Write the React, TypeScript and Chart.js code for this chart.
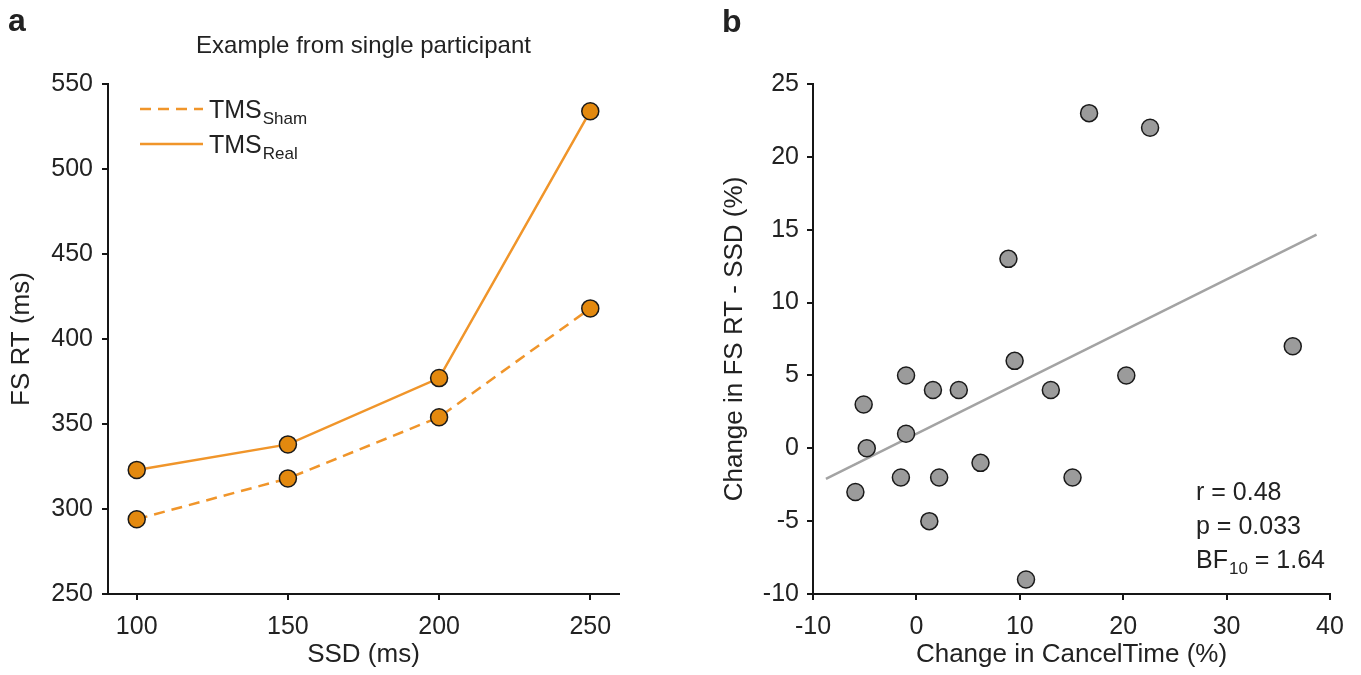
import { useEffect, useRef } from "react";
import { Chart, registerables } from "chart.js";

Chart.register(...registerables);

// ---------- Data ----------
const ssdValues = [100, 150, 200, 250];
const shamRT = [294, 318, 354, 418];
const realRT = [323, 338, 377, 534];
const rtTicks = [250, 300, 350, 400, 450, 500, 550];
const ssdTicks = [100, 150, 200, 250];

const cancelTimeChange = [16.7, 22.6, 8.9, 36.4, 9.5, -1.0, 20.3, 1.6, 4.1, 13.0, -5.1, -1.0, -4.8, 6.2, -1.5, 2.2, 15.1, -5.9, 1.25, 10.6];
const fsRtChange = [23, 22, 13, 7, 6, 5, 5, 4, 4, 4, 3, 1, 0, -1, -2, -2, -2, -3, -5, -9];
const fitX = [-8.75, 38.7];
const fitY = [-2.1, 14.66];
const bXTicks = [-10, 0, 10, 20, 30, 40];
const bYTicks = [-10, -5, 0, 5, 10, 15, 20, 25];

// ---------- Styles ----------
const FF = '"Liberation Sans", Arial, Helvetica, sans-serif';
const TEXT = "#222222";
const AXIS = "#161616";
const ORANGE_LINE = "#F0952A";
const ORANGE_FILL = "#E3890F";
const GRAY_FILL = "#9B9B9B";
const FIT_GRAY = "#A3A3A3";

function axisCommon(ticks: number[]) {
  return {
    type: "linear" as const,
    border: { display: true, color: AXIS, width: 2 },
    grid: {
      display: true,
      drawOnChartArea: false,
      drawTicks: true,
      tickLength: 6,
      color: AXIS,
      lineWidth: 2,
    },
    afterBuildTicks: (scale: any) => {
      scale.ticks = ticks.map((v) => ({ value: v }));
    },
  };
}

function drawSub(ctx: CanvasRenderingContext2D, x: number, y: number, main: string, sub: string, rest = "") {
  ctx.textAlign = "left";
  ctx.textBaseline = "alphabetic";
  ctx.font = `25px ${FF}`;
  ctx.fillText(main, x, y);
  let cx = x + ctx.measureText(main).width + 1;
  ctx.font = `17px ${FF}`;
  ctx.fillText(sub, cx, y + 6);
  cx += ctx.measureText(sub).width;
  if (rest) {
    ctx.font = `25px ${FF}`;
    ctx.fillText(rest, cx, y);
  }
}

const textPluginA = {
  id: "textA",
  afterDraw(chart: any) {
    const ctx: CanvasRenderingContext2D = chart.ctx;
    const ca = chart.chartArea;
    const cx = (ca.left + ca.right) / 2;
    ctx.save();
    ctx.fillStyle = TEXT;
    ctx.font = `bold 32px ${FF}`;
    ctx.textAlign = "left";
    ctx.textBaseline = "alphabetic";
    ctx.fillText("a", 8, 31);

    ctx.font = `24px ${FF}`;
    ctx.textAlign = "center";
    ctx.fillText("Example from single participant", cx, 53);

    ctx.font = `26px ${FF}`;
    ctx.textBaseline = "middle";
    ctx.fillText("SSD (ms)", cx, 655);
    ctx.save();
    ctx.translate(22, (ca.top + ca.bottom) / 2);
    ctx.rotate(-Math.PI / 2);
    ctx.fillText("FS RT (ms)", 0, 0);
    ctx.restore();

    // legend
    ctx.strokeStyle = ORANGE_LINE;
    ctx.lineWidth = 2.5;
    ctx.setLineDash([11, 7]);
    ctx.beginPath();
    ctx.moveTo(140, 109);
    ctx.lineTo(203, 109);
    ctx.stroke();
    ctx.setLineDash([]);
    ctx.beginPath();
    ctx.moveTo(140, 144);
    ctx.lineTo(203, 144);
    ctx.stroke();
    ctx.fillStyle = TEXT;
    drawSub(ctx, 209, 118, "TMS", "Sham");
    drawSub(ctx, 209, 153, "TMS", "Real");
    ctx.restore();
  },
};

const textPluginB = {
  id: "textB",
  afterDraw(chart: any) {
    const ctx: CanvasRenderingContext2D = chart.ctx;
    const ca = chart.chartArea;
    const cx = (ca.left + ca.right) / 2;
    ctx.save();
    ctx.fillStyle = TEXT;
    ctx.font = `bold 32px ${FF}`;
    ctx.textAlign = "left";
    ctx.textBaseline = "alphabetic";
    ctx.fillText("b", 42, 32);

    ctx.font = `26px ${FF}`;
    ctx.textAlign = "center";
    ctx.textBaseline = "middle";
    ctx.fillText("Change in CancelTime (%)", cx, 655);
    ctx.save();
    ctx.translate(55, (ca.top + ca.bottom) / 2);
    ctx.rotate(-Math.PI / 2);
    ctx.fillText("Change in FS RT - SSD (%)", 0, 0);
    ctx.restore();

    ctx.textAlign = "left";
    ctx.textBaseline = "alphabetic";
    ctx.font = `25px ${FF}`;
    ctx.fillText("r = 0.48", 516, 500);
    ctx.fillText("p = 0.033", 516, 534);
    drawSub(ctx, 516, 568, "BF", "10", " = 1.64");
    ctx.restore();
  },
};

function PanelA() {
  const ref = useRef<HTMLCanvasElement>(null);
  useEffect(() => {
    if (!ref.current) return;
    const x = axisCommon(ssdTicks);
    const y = axisCommon(rtTicks);
    const chart = new Chart(ref.current, {
      type: "line",
      data: {
        datasets: [
          {
            label: "TMS Sham",
            data: ssdValues.map((v, i) => ({ x: v, y: shamRT[i] })),
            borderColor: ORANGE_LINE,
            borderWidth: 2.5,
            borderDash: [11, 7],
            pointRadius: 8.5,
            pointBackgroundColor: ORANGE_FILL,
            pointBorderColor: "#1a1a1a",
            pointBorderWidth: 1.5,
            tension: 0,
            clip: false,
          },
          {
            label: "TMS Real",
            data: ssdValues.map((v, i) => ({ x: v, y: realRT[i] })),
            borderColor: ORANGE_LINE,
            borderWidth: 2.5,
            pointRadius: 8.5,
            pointBackgroundColor: ORANGE_FILL,
            pointBorderColor: "#1a1a1a",
            pointBorderWidth: 1.5,
            tension: 0,
            clip: false,
          },
        ],
      },
      options: {
        animation: false,
        responsive: false,
        maintainAspectRatio: false,
        devicePixelRatio: 1,
        layout: { padding: { top: 84, right: 61, bottom: 0, left: 0 } },
        plugins: { legend: { display: false }, tooltip: { enabled: false }, title: { display: false } },
        scales: {
          x: {
            ...x,
            min: 90.5,
            max: 259.5,
            ticks: { color: TEXT, font: { family: FF, size: 25 }, padding: 12, autoSkip: false, maxRotation: 0 },
            afterFit: (s: any) => {
              s.height = 81;
            },
          },
          y: {
            ...y,
            min: 250,
            max: 550,
            ticks: { color: TEXT, font: { family: FF, size: 25 }, padding: 9, autoSkip: false },
            afterFit: (s: any) => {
              s.width = 108;
            },
          },
        },
      } as any,
      plugins: [textPluginA],
    });
    return () => chart.destroy();
  }, []);
  return <canvas ref={ref} width={680} height={675} style={{ position: "absolute", left: 0, top: 0 }} />;
}

function PanelB() {
  const ref = useRef<HTMLCanvasElement>(null);
  useEffect(() => {
    if (!ref.current) return;
    const x = axisCommon(bXTicks);
    const y = axisCommon(bYTicks);
    const chart = new Chart(ref.current, {
      type: "scatter",
      data: {
        datasets: [
          {
            type: "scatter",
            label: "Participants",
            data: cancelTimeChange.map((v, i) => ({ x: v, y: fsRtChange[i] })),
            pointRadius: 8.5,
            pointBackgroundColor: GRAY_FILL,
            pointBorderColor: "#1a1a1a",
            pointBorderWidth: 1.5,
            order: 1,
            clip: false,
          },
          {
            type: "line",
            label: "Fit",
            data: fitX.map((v, i) => ({ x: v, y: fitY[i] })),
            borderColor: FIT_GRAY,
            borderWidth: 2.5,
            pointRadius: 0,
            showLine: true,
            order: 2,
          },
        ],
      },
      options: {
        animation: false,
        responsive: false,
        maintainAspectRatio: false,
        devicePixelRatio: 1,
        layout: { padding: { top: 84, right: 31, bottom: 0, left: 0 } },
        plugins: { legend: { display: false }, tooltip: { enabled: false }, title: { display: false } },
        scales: {
          x: {
            ...x,
            min: -10,
            max: 40,
            ticks: { color: TEXT, font: { family: FF, size: 25 }, padding: 12, autoSkip: false, maxRotation: 0 },
            afterFit: (s: any) => {
              s.height = 81;
            },
          },
          y: {
            ...y,
            min: -10,
            max: 25,
            ticks: { color: TEXT, font: { family: FF, size: 25 }, padding: 8, autoSkip: false },
            afterFit: (s: any) => {
              s.width = 133;
            },
          },
        },
      } as any,
      plugins: [textPluginB],
    });
    return () => chart.destroy();
  }, []);
  return <canvas ref={ref} width={681} height={675} style={{ position: "absolute", left: 680, top: 0 }} />;
}

export default function App() {
  return (
    <div style={{ position: "absolute", left: 0, top: 0, width: 1361, height: 675, background: "#ffffff", overflow: "hidden" }}>
      <PanelA />
      <PanelB />
    </div>
  );
}
